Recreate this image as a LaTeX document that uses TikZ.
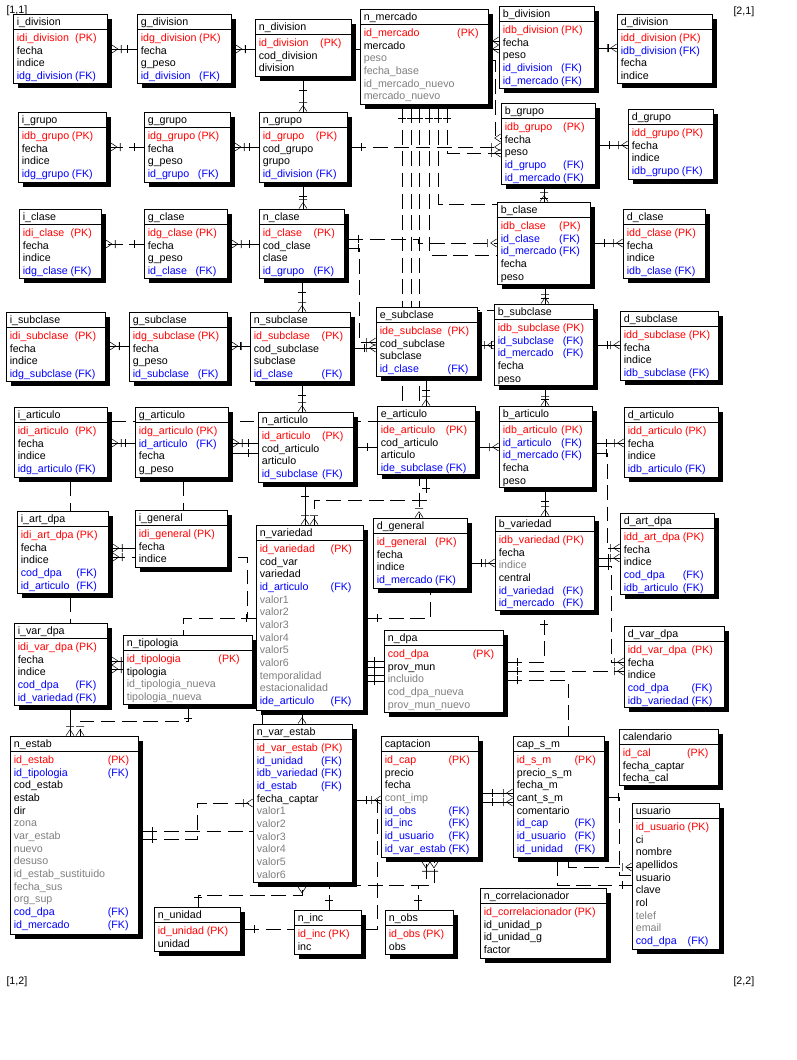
\documentclass[tikz,border=0pt]{standalone}
\usepackage{fontspec}
\setmainfont{Liberation Sans}
\usetikzlibrary{backgrounds,decorations.markings}

\definecolor{pkred}{RGB}{255,0,0}
\definecolor{fkblue}{RGB}{0,0,255}
\definecolor{optgray}{RGB}{128,128,128}

\tikzset{every picture/.style={line width=0.75pt}}
\tikzset{
  entframe/.style={draw=black, fill=white},
  entshadow/.style={fill=black},
  entarea/.style={anchor=north west, inner sep=0pt, outer sep=0pt},
  enttitle/.style={anchor=base west, inner sep=0pt, xshift=2.5pt, font=\fontsize{8}{9.5}\selectfont},
  entrows/.style={anchor=north west, inner sep=0pt, xshift=2.5pt, font=\fontsize{8}{9.5}\selectfont},
  pagelabel/.style={anchor=west, inner sep=0pt, font=\fontsize{8}{9.5}\selectfont},
  nonid/.style={dash pattern=on 11pt off 5pt},
  onestart/.style={postaction={decorate,decoration={markings,
      mark=at position 7pt with {\draw[solid] (0,-3pt) -- (0,3pt);}}}},
  oneend/.style={postaction={decorate,decoration={markings,
      mark=at position -7pt with {\draw[solid] (0,-3pt) -- (0,3pt);}}}},
  crowend/.style={postaction={decorate,decoration={markings,
      mark=at position -0.3pt with {\draw[solid] (-4.5pt,0) -- (0,3pt) (-4.5pt,0) -- (0,-3pt);}}}},
  manyend/.style={postaction={decorate,decoration={markings,
      mark=at position -0.3pt with {\draw[solid] (-4.5pt,0) -- (0,3pt) (-4.5pt,0) -- (0,-3pt) (-7pt,-3pt) -- (-7pt,3pt);}}}},
}

% rows of a table
\newcommand{\pkrow}[1]{\textcolor{pkred}{#1}&\textcolor{pkred}{(PK)}\\}
\newcommand{\fkrow}[1]{\textcolor{fkblue}{#1}&\textcolor{fkblue}{(FK)}\\}
\newcommand{\attrow}[1]{#1&\\}
\newcommand{\optrow}[1]{\textcolor{optgray}{#1}&\\}

% table: name, x1, y1, x2, y2, rows
\newcommand{\entity}[6]{%
  \fill[entshadow] (#2+4.5,#3+4.5) rectangle (#4+4.5,#5+4.5);
  \draw[entframe] (#2,#3) rectangle (#4,#5);
  \draw (#2,#3+15) -- (#4,#3+15);
  \node[entarea, minimum width={(#4-#2+4.5)*0.75pt}, minimum height={(#5-#3+4.5)*0.75pt}] (#1) at (#2,#3) {};
  \node[enttitle] (#1-title) at (#2,#3+11.5) {#1};
  \node[entrows] (#1-rows) at (#2,#3+18) {\begin{tabular}{@{}l@{\hspace{2pt}}l@{}}#6\end{tabular}};
}

\begin{document}
\catcode`\_=12
\begin{tikzpicture}[x=0.75pt,y=0.75pt,yscale=-1,xscale=1]
    \path[use as bounding box] (0,0) rectangle (796,1060);

    % Text Node
    \node[pagelabel] (lbl11) at (6,11) {[1,1]};
    % Text Node
    \node[pagelabel] (lbl21) at (733,12) {[2,1]};
    % Text Node
    \node[pagelabel] (lbl12) at (6,982) {[1,2]};
    % Text Node
    \node[pagelabel] (lbl22) at (733,982) {[2,2]};

    % division
    \entity{i_division}{13}{14}{107}{83}{\pkrow{idi_division}\attrow{fecha}\attrow{indice}\fkrow{idg_division}}
    \entity{g_division}{137}{14}{231}{83}{\pkrow{idg_division}\attrow{fecha}\attrow{g_peso}\fkrow{id_division}}
    \entity{n_division}{255}{19}{351}{76}{\pkrow{id_division}\attrow{cod_division}\attrow{division}}
    \entity{n_mercado}{360}{9}{488}{104}{\pkrow{id_mercado}\attrow{mercado}\optrow{peso}\optrow{fecha_base}\optrow{id_mercado_nuevo}\optrow{mercado_nuevo}}
    \entity{b_division}{499}{6}{594}{88}{\pkrow{idb_division}\attrow{fecha}\attrow{peso}\fkrow{id_division}\fkrow{id_mercado}}
    \entity{d_division}{617}{14}{712}{83}{\pkrow{idd_division}\fkrow{idb_division}\attrow{fecha}\attrow{indice}}
    % grupo
    \entity{i_grupo}{18}{112}{106}{182}{\pkrow{idb_grupo}\attrow{fecha}\attrow{indice}\fkrow{idg_grupo}}
    \entity{g_grupo}{144}{112}{230}{182}{\pkrow{idg_grupo}\attrow{fecha}\attrow{g_peso}\fkrow{id_grupo}}
    \entity{n_grupo}{259}{112}{347}{182}{\pkrow{id_grupo}\attrow{cod_grupo}\attrow{grupo}\fkrow{id_division}}
    \entity{b_grupo}{501}{103}{595}{184}{\pkrow{idb_grupo}\attrow{fecha}\attrow{peso}\fkrow{id_grupo}\fkrow{id_mercado}}
    \entity{d_grupo}{628}{109}{713}{179}{\pkrow{idd_grupo}\attrow{fecha}\attrow{indice}\fkrow{idb_grupo}}
    % clase
    \entity{i_clase}{19}{209}{101}{278}{\pkrow{idi_clase}\attrow{fecha}\attrow{indice}\fkrow{idg_clase}}
    \entity{g_clase}{144}{209}{227}{278}{\pkrow{idg_clase}\attrow{fecha}\attrow{g_peso}\fkrow{id_clase}}
    \entity{n_clase}{259}{209}{344}{278}{\pkrow{id_clase}\attrow{cod_clase}\attrow{clase}\fkrow{id_grupo}}
    \entity{b_clase}{497}{202}{590}{284}{\pkrow{idb_clase}\fkrow{id_clase}\fkrow{id_mercado}\attrow{fecha}\attrow{peso}}
    \entity{d_clase}{623}{209}{705}{278}{\pkrow{idd_clase}\attrow{fecha}\attrow{indice}\fkrow{idb_clase}}
    % subclase
    \entity{i_subclase}{6}{312}{105}{381}{\pkrow{idi_subclase}\attrow{fecha}\attrow{indice}\fkrow{idg_subclase}}
    \entity{g_subclase}{129}{312}{227}{381}{\pkrow{idg_subclase}\attrow{fecha}\attrow{g_peso}\fkrow{id_subclase}}
    \entity{n_subclase}{250}{312}{350}{381}{\pkrow{id_subclase}\attrow{cod_subclase}\attrow{subclase}\fkrow{id_clase}}
    \entity{e_subclase}{376}{307}{477}{376}{\pkrow{ide_subclase}\attrow{cod_subclase}\attrow{subclase}\fkrow{id_clase}}
    \entity{b_subclase}{494}{304}{593}{385}{\pkrow{idb_subclase}\fkrow{id_subclase}\fkrow{id_mercado}\attrow{fecha}\attrow{peso}}
    \entity{d_subclase}{620}{311}{718}{380}{\pkrow{idd_subclase}\attrow{fecha}\attrow{indice}\fkrow{idb_subclase}}
    % articulo
    \entity{i_articulo}{14}{407}{107}{477}{\pkrow{idi_articulo}\attrow{fecha}\attrow{indice}\fkrow{idg_articulo}}
    \entity{g_articulo}{135}{407}{228}{477}{\pkrow{idg_articulo}\fkrow{id_articulo}\attrow{fecha}\attrow{g_peso}}
    \entity{n_articulo}{258}{412}{353}{482}{\pkrow{id_articulo}\attrow{cod_articulo}\attrow{articulo}\fkrow{id_subclase}}
    \entity{e_articulo}{377}{406}{475}{474}{\pkrow{ide_articulo}\attrow{cod_articulo}\attrow{articulo}\fkrow{ide_subclase}}
    \entity{b_articulo}{499}{406}{592}{487}{\pkrow{idb_articulo}\fkrow{id_articulo}\fkrow{id_mercado}\attrow{fecha}\attrow{peso}}
    \entity{d_articulo}{624}{407}{718}{477}{\pkrow{idd_articulo}\attrow{fecha}\attrow{indice}\fkrow{idb_articulo}}
    % variedad
    \entity{i_art_dpa}{17}{511}{108}{593}{\pkrow{idi_art_dpa}\attrow{fecha}\attrow{indice}\fkrow{cod_dpa}\fkrow{id_articulo}}
    \entity{i_general}{135}{510}{227}{567}{\pkrow{idi_general}\attrow{fecha}\attrow{indice}}
    \entity{n_variedad}{256}{525}{363}{710}{\pkrow{id_variedad}\attrow{cod_var}\attrow{variedad}\fkrow{id_articulo}\optrow{valor1}\optrow{valor2}\optrow{valor3}\optrow{valor4}\optrow{valor5}\optrow{valor6}\optrow{temporalidad}\optrow{estacionalidad}\fkrow{ide_articulo}}
    \entity{d_general}{373}{518}{467}{588}{\pkrow{id_general}\attrow{fecha}\attrow{indice}\fkrow{id_mercado}}
    \entity{b_variedad}{495}{516}{594}{610}{\pkrow{idb_variedad}\attrow{fecha}\optrow{indice}\attrow{central}\fkrow{id_variedad}\fkrow{id_mercado}}
    \entity{d_art_dpa}{620}{513}{714}{594}{\pkrow{idd_art_dpa}\attrow{fecha}\attrow{indice}\fkrow{cod_dpa}\fkrow{idb_articulo}}
    % dpa
    \entity{i_var_dpa}{14}{623}{107}{705}{\pkrow{idi_var_dpa}\attrow{fecha}\attrow{indice}\fkrow{cod_dpa}\fkrow{id_variedad}}
    \entity{n_tipologia}{123}{635}{252}{704}{\pkrow{id_tipologia}\attrow{tipologia}\optrow{id_tipologia_nueva}\optrow{tipologia_nueva}}
    \entity{n_dpa}{384}{630}{503}{712}{\pkrow{cod_dpa}\attrow{prov_mun}\optrow{incluido}\optrow{cod_dpa_nueva}\optrow{prov_mun_nuevo}}
    \entity{d_var_dpa}{624}{626}{724}{707}{\pkrow{idd_var_dpa}\attrow{fecha}\attrow{indice}\fkrow{cod_dpa}\fkrow{idb_variedad}}
    % estab
    \entity{n_estab}{10}{736}{138}{934}{\pkrow{id_estab}\fkrow{id_tipologia}\attrow{cod_estab}\attrow{estab}\attrow{dir}\optrow{zona}\optrow{var_estab}\optrow{nuevo}\optrow{desuso}\optrow{id_estab_sustituido}\optrow{fecha_sus}\optrow{org_sup}\fkrow{cod_dpa}\fkrow{id_mercado}}
    \entity{n_var_estab}{253}{724}{352}{882}{\pkrow{id_var_estab}\fkrow{id_unidad}\fkrow{idb_variedad}\fkrow{id_estab}\attrow{fecha_captar}\optrow{valor1}\optrow{valor2}\optrow{valor3}\optrow{valor4}\optrow{valor5}\optrow{valor6}}
    \entity{captacion}{381}{736}{478}{857}{\pkrow{id_cap}\attrow{precio}\attrow{fecha}\optrow{cont_imp}\fkrow{id_obs}\fkrow{id_inc}\fkrow{id_usuario}\fkrow{id_var_estab}}
    \entity{cap_s_m}{513}{736}{604}{857}{\pkrow{id_s_m}\attrow{precio_s_m}\attrow{fecha_m}\attrow{cant_s_m}\attrow{comentario}\fkrow{id_cap}\fkrow{id_usuario}\fkrow{id_unidad}}
    \entity{calendario}{619}{729}{718}{785}{\pkrow{id_cal}\attrow{fecha_captar}\attrow{fecha_cal}}
    \entity{usuario}{632}{803}{719}{949}{\pkrow{id_usuario}\attrow{ci}\attrow{nombre}\attrow{apellidos}\attrow{usuario}\attrow{clave}\attrow{rol}\optrow{telef}\optrow{email}\fkrow{cod_dpa}}
    \entity{n_unidad}{154}{907}{240}{951}{\pkrow{id_unidad}\attrow{unidad}}
    \entity{n_inc}{294}{910}{361}{954}{\pkrow{id_inc}\attrow{inc}}
    \entity{n_obs}{385}{910}{453}{954}{\pkrow{id_obs}\attrow{obs}}
    \entity{n_correlacionador}{480}{888}{606}{958}{\pkrow{id_correlacionador}\attrow{id_unidad_p}\attrow{id_unidad_g}\attrow{factor}}

    \begin{pgfonlayer}{background}
    %Straight Lines
    \draw[onestart, manyend] (g_division.west |- 0,49) -- (i_division.east |- 0,49);
    \draw[onestart, manyend] (n_division.west |- 0,49) -- (g_division.east |- 0,49);
    \draw[onestart, manyend] (n_division.east |- 0,49) -- (b_division.west |- 0,49);
    \draw[onestart, manyend] (n_mercado.east |- 0,41) -- (b_division.west |- 0,41);
    \draw[onestart, manyend] (b_division.east |- 0,48) -- (d_division.west |- 0,48);
    \draw[onestart, manyend] (n_division.south -| 303,0) -- (n_grupo.north -| 303,0);
    \draw[nonid, crowend] (n_mercado.east |- 0,60) -| (495,138) -- (b_grupo.west |- 0,138);
    %Straight Lines
    \draw[nonid, onestart, manyend] (g_grupo.west |- 0,147) -- (i_grupo.east |- 0,147);
    \draw[onestart, manyend] (n_grupo.west |- 0,147) -- (g_grupo.east |- 0,147);
    \draw[nonid, onestart, manyend] (n_grupo.east |- 0,147) -- (b_grupo.west |- 0,147);
    \draw[nonid, onestart, manyend] (n_mercado.south -| 447,0) |- (b_grupo.west |- 0,153);
    \draw[onestart, manyend] (b_grupo.east |- 0,145) -- (d_grupo.west |- 0,145);
    \draw[onestart, manyend] (n_grupo.south -| 303,0) -- (n_clase.north -| 303,0);
    \draw[onestart, manyend] (b_grupo.south -| 544,0) -- (b_clase.north -| 544,0);
    %Straight Lines
    \draw[nonid, onestart, manyend] (g_clase.west |- 0,244) -- (i_clase.east |- 0,244);
    \draw[onestart, manyend] (n_clase.west |- 0,244) -- (g_clase.east |- 0,244);
    \draw[nonid, onestart, manyend] (n_clase.east |- 0,239) -- (418,239) -- (418,243) -- (b_clase.west |- 0,243);
    \draw[nonid, onestart] (n_mercado.south -| 438,0) |- (b_clase.west |- 0,204);
    \draw[nonid, onestart] (n_mercado.south -| 429,0) |- (b_clase.west |- 0,255);
    \draw[nonid, onestart, manyend] (n_clase.east |- 0,248) -| (359,342) -- (e_subclase.west |- 0,342);
    \draw[onestart, manyend] (b_clase.east |- 0,243) -- (d_clase.west |- 0,243);
    \draw[onestart, manyend] (n_clase.south -| 302,0) -- (n_subclase.north -| 302,0);
    \draw[onestart, manyend] (b_clase.south -| 545,0) -- (b_subclase.north -| 545,0);
    %Straight Lines
    \draw[onestart, manyend] (g_subclase.west |- 0,346) -- (i_subclase.east |- 0,346);
    \draw[onestart, manyend] (n_subclase.west |- 0,346) -- (g_subclase.east |- 0,346);
    \draw[onestart, manyend] (n_subclase.east |- 0,348) -- (e_subclase.west |- 0,348);
    \draw[onestart, manyend] (e_subclase.east |- 0,345) -- (b_subclase.west |- 0,345);
    \draw[nonid, onestart] (n_mercado.south -| 411,0) |- (b_subclase.west |- 0,310);
    \draw[nonid, onestart] (n_mercado.south -| 402,0) -- (e_articulo.north -| 402,0);
    \draw[nonid, onestart, manyend] (n_mercado.south -| 419,0) -- (d_general.north -| 419,0);
    \draw[onestart, manyend] (b_subclase.east |- 0,345) -- (d_subclase.west |- 0,345);
    \draw[onestart, manyend] (n_subclase.south -| 302,0) -- (n_articulo.north -| 302,0);
    \draw[onestart, manyend] (b_subclase.south -| 545,0) -- (b_articulo.north -| 545,0);
    \draw[onestart, manyend] (e_subclase.south -| 426,0) -- (e_articulo.north -| 426,0);
    %Straight Lines
    \draw[nonid] (i_articulo.east |- 0,421) -- (e_articulo.west |- 0,421);
    \draw[onestart, manyend] (g_articulo.west |- 0,443) -- (i_articulo.east |- 0,443);
    \draw[onestart, manyend] (n_articulo.west |- 0,443) -- (g_articulo.east |- 0,443);
    \draw[onestart] (n_articulo.west |- 0,453) -- (g_articulo.east |- 0,453);
    \draw[onestart, manyend] (n_articulo.east |- 0,447) -- (b_articulo.west |- 0,447);
    \draw[onestart, manyend] (b_articulo.east |- 0,443) -- (d_articulo.west |- 0,443);
    \draw[nonid, onestart, manyend] (b_articulo.east |- 0,453) -| (607,548) -- (d_art_dpa.west |- 0,548);
    \draw[onestart, manyend] (b_articulo.south -| 545,0) -- (b_variedad.north -| 545,0);
    \draw[onestart, manyend] (n_articulo.south -| 305,0) -- (n_variedad.north -| 305,0);
    \draw[nonid, onestart, manyend] (e_articulo.south -| 426,0) |- (314,500) -- (n_variedad.north -| 314,0);
    %Straight Lines
    \draw[nonid] (i_articulo.south -| 70,0) -- (i_art_dpa.north -| 70,0);
    \draw[nonid] (g_articulo.south -| 183,0) -- (i_general.north -| 183,0);
    \draw[manyend] (i_general.west |- 0,548) -- (i_art_dpa.east |- 0,548);
    \draw[nonid, manyend] (n_variedad.west |- 0,618) -- (247,618) |- (i_art_dpa.east |- 0,557);
    \draw[nonid, onestart] (n_variedad.west |- 0,618) -| (n_tipologia.north -| 183,0);
    \draw[nonid, onestart] (n_variedad.east |- 0,618) -| (d_general.south -| 430,0);
    \draw[onestart, manyend] (d_general.east |- 0,563) -- (b_variedad.west |- 0,563);
    \draw[onestart, manyend] (b_variedad.east |- 0,558) -- (d_art_dpa.west |- 0,558);
    \draw[nonid, onestart, manyend] (b_variedad.east |- 0,566) -| (611,662) -- (d_var_dpa.west |- 0,662);
    \draw[onestart, manyend] (n_variedad.south -| 302,0) -- (n_var_estab.north -| 302,0);
    \draw[nonid] (n_variedad.south -| 262,0) -- (n_var_estab.north -| 262,0);
    %Straight Lines
    \draw[nonid] (i_art_dpa.south -| 70,0) -- (i_var_dpa.north -| 70,0);
    \draw[onestart, manyend] (n_dpa.west |- 0,661) -- (i_var_dpa.east |- 0,661);
    \draw[onestart, manyend] (n_variedad.west |- 0,669) -- (i_var_dpa.east |- 0,669);
    \draw[onestart] (n_dpa.west |- 0,667) -- (n_variedad.east |- 0,667);
    \draw[onestart] (n_dpa.west |- 0,675) -- (n_variedad.east |- 0,675);
    \draw[onestart] (n_dpa.west |- 0,681) -- (n_variedad.east |- 0,681);
    \draw[nonid, onestart, oneend] (n_dpa.east |- 0,662) -| (b_variedad.south -| 544,0);
    \draw[nonid, onestart, manyend] (n_dpa.east |- 0,671) -- (d_var_dpa.west |- 0,671);
    \draw[nonid, onestart] (n_dpa.east |- 0,680) -| (cap_s_m.north -| 568,0);
    %Straight Lines
    \draw[manyend] (i_var_dpa.south -| 70,0) -- (n_estab.north -| 70,0);
    \draw[nonid, onestart, manyend] (n_tipologia.south -| 188,0) |- (80,721) -- (n_estab.north -| 80,0);
    \draw[nonid, onestart] (n_estab.east |- 0,831) -- (n_var_estab.west |- 0,831);
    \draw[nonid, onestart, manyend] (n_estab.east |- 0,839) -| (197,803) -- (n_var_estab.west |- 0,803);
    \draw[onestart, manyend] (n_var_estab.east |- 0,800) -- (captacion.west |- 0,800);
    \draw[onestart, manyend] (captacion.east |- 0,793) -- (cap_s_m.west |- 0,793);
    \draw[onestart, manyend] (captacion.east |- 0,802) -- (cap_s_m.west |- 0,802);
    \draw[nonid, onestart] (cap_s_m.east |- 0,797) -| (619,875) -- (usuario.west |- 0,875);
    \draw[nonid, manyend] (cap_s_m.south -| 568,0) |- (usuario.west |- 0,867);
    \draw[nonid, oneend] (cap_s_m.south -| 557,0) |- (usuario.west |- 0,885);
    %Straight Lines
    \draw[nonid, onestart, crowend] (n_unidad.north -| 198,0) |- (302,895) -- (n_var_estab.south -| 302,0);
    \draw[nonid, onestart] (n_unidad.east |- 0,929) -- (n_inc.west |- 0,929);
    \draw[nonid, onestart, manyend] (n_inc.north -| 329,0) |- (426,885) -- (captacion.south -| 426,0);
    \draw[nonid, onestart, manyend] (n_obs.north -| 418,0) |- (434,885) -- (captacion.south -| 434,0);
    \draw[nonid] (n_inc.east |- 0,929) -| (captacion.west -| 377,0);
    \end{pgfonlayer}
\end{tikzpicture}
\end{document}
